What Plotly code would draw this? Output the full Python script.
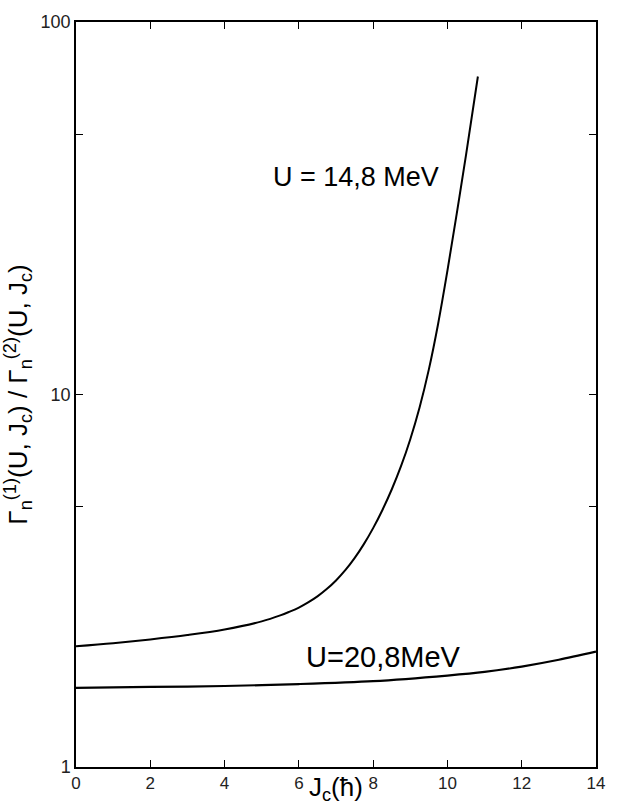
import plotly.graph_objects as go

# Neutron width ratio vs. angular momentum J_c at two excitation energies
j_148 = [0, 1, 2, 3, 4, 5, 5.5, 5.75, 6, 6.25, 6.5, 6.75, 7, 7.25, 7.5, 7.75,
         8, 8.25, 8.5, 8.75, 9, 9.25, 9.5, 9.75, 10, 10.25, 10.5, 10.82]
r_148 = [2.11, 2.15, 2.20, 2.26, 2.339, 2.460, 2.553, 2.612, 2.679, 2.766, 2.871,
         3.003, 3.168, 3.375, 3.637, 3.966, 4.378, 4.898, 5.559, 6.419, 7.586,
         9.226, 11.68, 15.49, 21.50, 30.55, 43.91, 71.4]

j_208 = [0, 2, 4, 6, 8, 10, 11, 12, 13, 14]
r_208 = [1.63, 1.64, 1.65, 1.67, 1.70, 1.76, 1.80, 1.86, 1.94, 2.04]

x_ticks = [0, 2, 4, 6, 8, 10, 12, 14]
y_ticks = [1, 5, 10, 50, 100]
y_tick_text = ["1", "", "10", "", "100"]

FONT = "Liberation Sans"

fig = go.Figure()
fig.add_trace(go.Scatter(x=j_148, y=r_148, mode="lines",
                         line=dict(color="black", width=2, shape="spline", smoothing=1),
                         showlegend=False))
fig.add_trace(go.Scatter(x=j_208, y=r_208, mode="lines",
                         line=dict(color="black", width=2.2, shape="spline", smoothing=0.8),
                         showlegend=False))

# curve labels (y given in log10 units on the log axis)
fig.add_annotation(x=9.83, y=1.585, xref="x", yref="y", yanchor="middle",
                   xanchor="right", showarrow=False,
                   text="U = 14,8 MeV", font=dict(family=FONT, size=27, color="black"))
fig.add_annotation(x=6.15, y=0.296, xref="x", yref="y", yanchor="middle",
                   xanchor="left", showarrow=False,
                   text="U=20,8MeV", font=dict(family=FONT, size=29, color="black"))
fig.add_annotation(x=7.0, y=-0.029, xref="x", yref="paper", yanchor="middle",
                   xanchor="center", showarrow=False,
                   text="J<sub>c</sub>(ħ)", font=dict(family=FONT, size=26, color="black"))

fig.update_layout(
    width=617, height=805,
    margin=dict(l=68, r=12, t=17, b=37),
    paper_bgcolor="white", plot_bgcolor="white",
    font=dict(family=FONT, color="black"),
    xaxis=dict(range=[0, 14], tickvals=x_ticks, ticks="inside", ticklen=7,
               tickwidth=1.2, tickcolor="black", showline=True, linecolor="black",
               linewidth=1.5, mirror="ticks", showgrid=False, zeroline=False,
               tickfont=dict(size=17, color="#222")),
    yaxis=dict(type="log", range=[0, 2], tickvals=y_ticks, ticktext=y_tick_text,
               ticks="inside", ticklen=7, tickwidth=1.2, tickcolor="black",
               showline=True, linecolor="black", linewidth=1.5, mirror="ticks",
               showgrid=False, zeroline=False,
               tickfont=dict(size=18, color="#222"),
               title=dict(text="Γ<sub>n</sub><sup>(1)</sup>(U, J<sub>c</sub>) / "
                               "Γ<sub>n</sub><sup>(2)</sup>(U, J<sub>c</sub>)",
                          font=dict(size=26), standoff=10)),
)

fig.write_html("out.html")
